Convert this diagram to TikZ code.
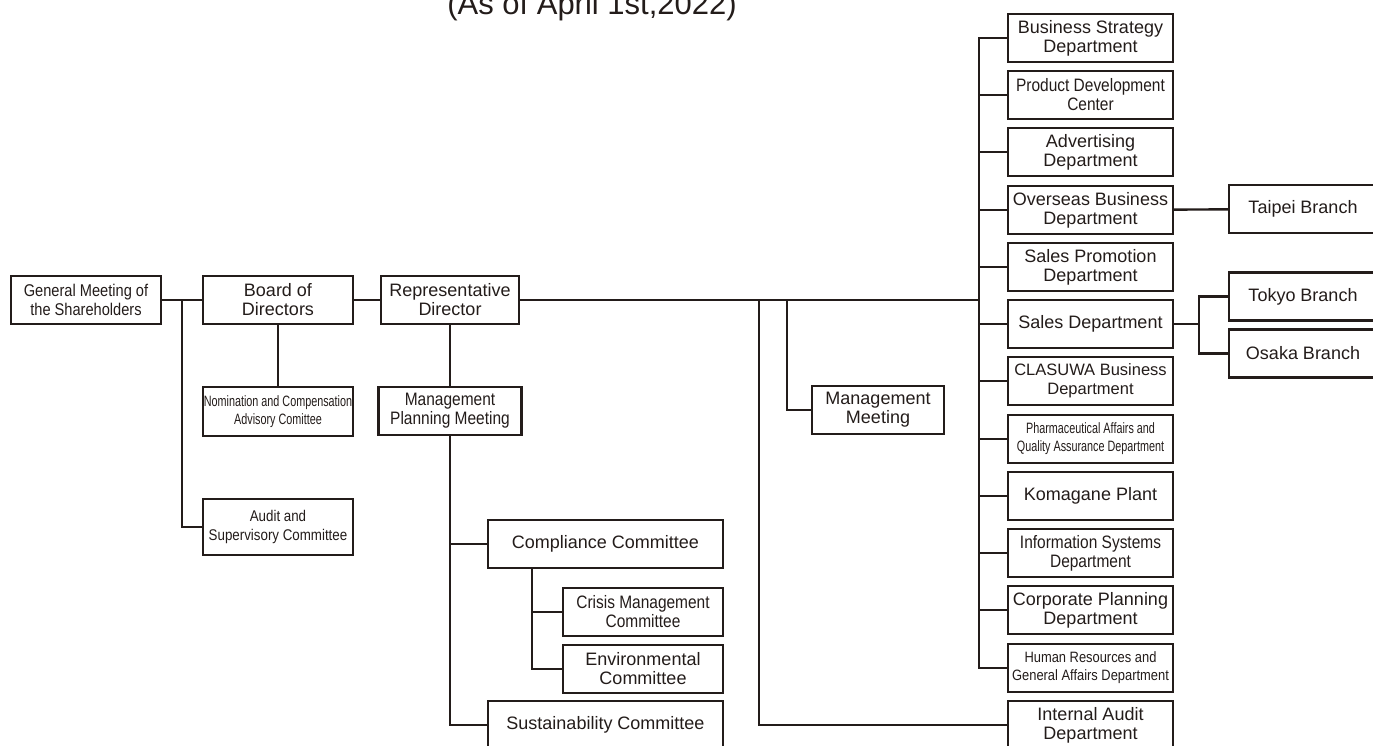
\documentclass[tikz,border=0pt]{standalone}
\usepackage{fontspec}
\setmainfont{Liberation Sans}
\newfontfamily\condfont[FakeStretch=0.86]{Liberation Sans}
\newfontfamily\narrowfont[FakeStretch=0.72]{Liberation Sans}
\definecolor{ink}{RGB}{35,28,26}
\begin{document}
\begin{tikzpicture}[x=1pt,y=-1pt,
	orgbox/.style={draw=ink, line width=2.4pt, text=ink, inner sep=0pt, align=center,
		minimum width=165pt, minimum height=48pt, font=\fontsize{18}{19}\selectfont},
	condbox/.style={orgbox, font=\condfont\fontsize{18}{19}\selectfont},
	narrowbox/.style={orgbox, font=\narrowfont\fontsize{15}{18}\selectfont},
	link/.style={draw=ink, line width=2.4pt}]
				\useasboundingbox (0,0) rectangle (1373,745);
				\clip (0,0) rectangle (1373,745);
				\node[anchor=base, text=ink, font=\fontsize{31}{31}\selectfont] (asof) at (592,14) {(As of April 1st,2022)};
				% left side
				\node[condbox, minimum width=150pt, font=\condfont\fontsize{17}{19}\selectfont] (gm) at (86,300) {General Meeting of\\the Shareholders};
				\node[orgbox, minimum width=150pt] (bod) at (278,300) {Board of\\Directors};
				\node[orgbox, minimum width=138pt] (rd) at (450,300) {Representative\\Director};
				\node[narrowbox, minimum width=150pt, minimum height=49pt] (nom) at (278,411.5) {Nomination and Compensation\\Advisory Comittee};
				\node[condbox, minimum width=150pt, minimum height=56pt, font=\condfont\fontsize{15.5}{19}\selectfont] (aud) at (278,527) {Audit and\\Supervisory Committee};
				\node[condbox, minimum width=143pt] (mpm) at (450,411) {Management\\Planning Meeting};
				\node[orgbox, minimum width=235pt] (comp) at (605.5,544) {Compliance Committee};
				\node[condbox, minimum width=160pt] (cri) at (643,612) {Crisis Management\\Committee};
				\node[orgbox, minimum width=160pt] (env) at (643,669) {Environmental\\Committee};
				\node[orgbox, minimum width=235pt] (sus) at (605.5,725) {Sustainability Committee};
				\node[orgbox, minimum width=132pt] (mm) at (878,410) {Management\\Meeting};
				% departments
				\node[orgbox] (bsd) at (1090.5,38) {Business Strategy\\Department};
				\node[condbox] (pdc) at (1090.5,95) {Product Development\\Center};
				\node[orgbox] (adv) at (1090.5,152) {Advertising\\Department};
				\node[orgbox] (ovs) at (1090.5,210) {Overseas Business\\Department};
				\node[orgbox] (spd) at (1090.5,267) {Sales Promotion\\Department};
				\node[orgbox] (sal) at (1090.5,324) {Sales Department};
				\node[orgbox, font=\fontsize{16.5}{19}\selectfont] (cla) at (1090.5,381) {CLASUWA Business\\Department};
				\node[narrowbox] (pqa) at (1090.5,439) {Pharmaceutical Affairs and\\Quality Assurance Department};
				\node[orgbox] (kom) at (1090.5,496) {Komagane Plant};
				\node[condbox] (isd) at (1090.5,553) {Information Systems\\Department};
				\node[orgbox] (cpd) at (1090.5,610) {Corporate Planning\\Department};
				\node[condbox, font=\condfont\fontsize{15}{18}\selectfont] (hrg) at (1090.5,668) {Human Resources and\\General Affairs Department};
				\node[orgbox] (iad) at (1090.5,725) {Internal Audit\\Department};
				% branches
				\node[orgbox, minimum width=148pt] (tpe) at (1303,209) {Taipei Branch};
				\node[orgbox, minimum width=148pt] (tok) at (1303,296.5) {Tokyo Branch};
				\node[orgbox, minimum width=148pt] (osa) at (1303,353.5) {Osaka Branch};
				% joints
				\coordinate (gmj) at (182,300);
				\coordinate (iax) at (759,300);
				\coordinate (mmx) at (787,300);
				\coordinate (sx) at (979,300);
				\coordinate (cx) at (532,0);
				\coordinate (bx) at (1199,0);
				% lines
				\draw[link] (gm) -- (bod);
				\draw[link] (bod) -- (rd);
				\draw[link] (gmj) |- (aud);
				\draw[link] (bod) -- (nom);
				\draw[link] (rd) -- (mpm);
				\draw[link] (rd) -- (sx);
				\draw[link] (mpm) |- (sus);
				\draw[link] (mpm |- comp) -- (comp);
				\draw[link] (comp.south -| cx) |- (env);
				\draw[link] (cx |- cri) -- (cri);
				\draw[link] (iax) |- (iad);
				\draw[link] (mmx) |- (mm);
				\draw[link] (bsd) -| (sx |- hrg) -- (hrg);
				\foreach \d in {pdc,adv,ovs,spd,sal,cla,pqa,kom,isd,cpd}
					\draw[link] (sx |- \d) -- (\d);
				\draw[link] (ovs) -- (tpe);
				\draw[link] (sal) -- (sal -| bx);
				\draw[link] (tok) -| (bx |- osa) -- (osa);
			\end{tikzpicture}
\end{document}
